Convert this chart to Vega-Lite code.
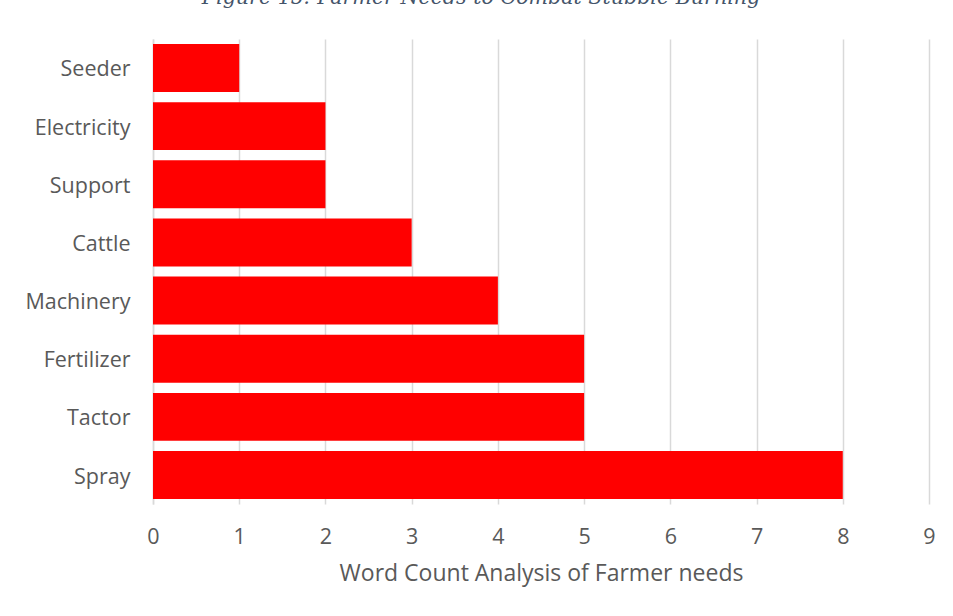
{
  "$schema": "https://vega.github.io/schema/vega-lite/v6.json",
  "width": 776,
  "height": 465,
  "autosize": {"type": "none"},
  "padding": {"left": 153, "top": 39, "right": 24, "bottom": 112},
  "background": "#ffffff",
  "title": {
    "text": "Figure 15: Farmer Needs to Combat Stubble Burning",
    "anchor": "middle",
    "frame": "group",
    "orient": "top",
    "baseline": "alphabetic",
    "offset": 14,
    "dx": -60,
    "font": "DejaVu Serif",
    "fontStyle": "italic",
    "fontWeight": "normal",
    "fontSize": 20.6,
    "color": "#44546A"
  },
  "data": {
    "values": [
      {"need": "Seeder", "count": 1},
      {"need": "Electricity", "count": 2},
      {"need": "Support", "count": 2},
      {"need": "Cattle", "count": 3},
      {"need": "Machinery", "count": 4},
      {"need": "Fertilizer", "count": 5},
      {"need": "Tactor", "count": 5},
      {"need": "Spray", "count": 8}
    ]
  },
  "mark": {"type": "bar", "color": "#ff0000"},
  "encoding": {
    "y": {
      "field": "need",
      "type": "nominal",
      "sort": null,
      "scale": {"paddingInner": 0.175, "paddingOuter": 0.086},
      "axis": {
        "title": null,
        "ticks": false,
        "domainColor": "#d9d9d9",
        "domainWidth": 1.5,
        "labelFont": "Open Sans",
        "labelFontSize": 21.5,
        "labelColor": "#595959",
        "labelPadding": 23,
        "labelOffset": 2.5
      }
    },
    "x": {
      "field": "count",
      "type": "quantitative",
      "scale": {"domain": [0, 9], "nice": false},
      "axis": {
        "title": "Word Count Analysis of Farmer needs",
        "values": [0, 1, 2, 3, 4, 5, 6, 7, 8, 9],
        "format": "d",
        "domain": false,
        "ticks": false,
        "grid": true,
        "gridColor": "#d9d9d9",
        "gridWidth": 1.5,
        "labelFlush": false,
        "labelFont": "Open Sans",
        "labelFontSize": 21.5,
        "labelColor": "#595959",
        "labelPadding": 22,
        "titleFont": "Open Sans",
        "titleFontSize": 23,
        "titleFontWeight": "normal",
        "titleColor": "#595959",
        "titlePadding": 15
      }
    }
  },
  "config": {"view": {"stroke": null}}
}
